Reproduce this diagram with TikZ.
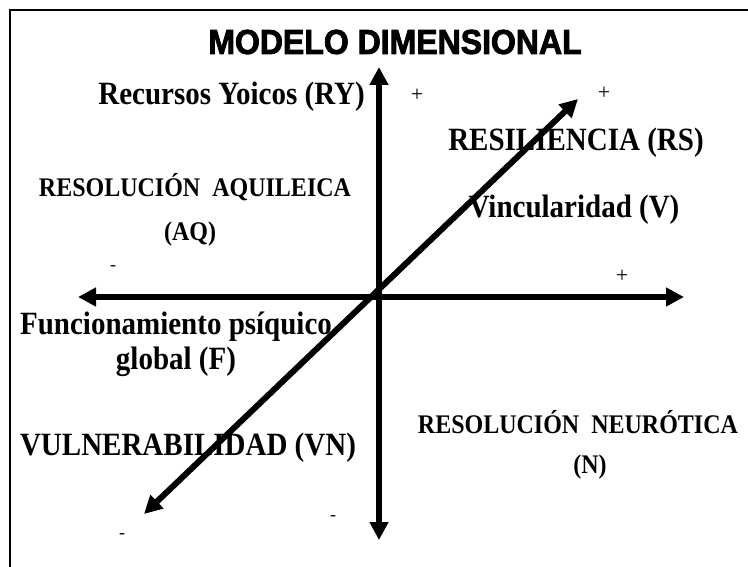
\documentclass[tikz,border=0pt]{standalone}
\usepackage{fontspec}
\setmainfont{Liberation Serif}
\newfontfamily\titlefont{Liberation Sans}[BoldFeatures={FakeBold=2.5}]
\usetikzlibrary{arrows.meta}
\tikzset{
  axis/.style={line width=6pt, {Triangle[length=18pt,width=18pt]}-{Triangle[length=18pt,width=18pt]}},
  lbl/.style={inner sep=0pt, yscale=1.12, font=\fontsize{29}{32}\selectfont\bfseries},
  caps/.style={inner sep=0pt, yscale=1.12, font=\fontsize{24}{27}\selectfont\bfseries},
  sign/.style={inner sep=0pt, font=\fontsize{22}{24}\selectfont},
  minus/.style={inner sep=0pt, font=\fontsize{18}{20}\selectfont},
  frame/.style={line width=2pt}
}
\begin{document}
\begin{tikzpicture}[x=1pt,y=-1pt]
\useasboundingbox (0,0) rectangle (748,567);
\fill[white] (0,0) rectangle (748,567);
\coordinate (fb) at (10,567);
\coordinate (fc) at (10,10);
\coordinate (fr) at (748,10);
\draw[frame] (fb) -- (fc) -- (fr);

\node[inner sep=0pt, yscale=1.08, font=\fontsize{32}{34}\selectfont\titlefont\bfseries] (title) at (395,42) {MODELO DIMENSIONAL};

% axes
\coordinate (top) at (379,67);
\coordinate (bot) at (379,540);
\coordinate (left) at (78,297);
\coordinate (right) at (684,297);
\coordinate (ur) at (578,99);
\coordinate (ll) at (144,514);
\draw[axis] (bot) -- (top);
\draw[axis] (left) -- (right);
\draw[axis] (ll) -- (ur);

% labels
\node[lbl, anchor=east] (ry) at (365,97) {Recursos Yoicos (RY)};
\node[lbl] (rs) at (576,143) {RESILIENCIA (RS)};
\node[lbl] (v) at (574,210) {Vincularidad (V)};
\node[caps] (aq1) at (195,187) {RESOLUCIÓN\ \ AQUILEICA};
\node[caps] (aq2) at (190,234) {(AQ)};
\node[lbl] (f1) at (176,327) {Funcionamiento psíquico};
\node[lbl] (f2) at (176,362) {global (F)};
\node[caps] (n1) at (578,422) {RESOLUCIÓN\ \ NEURÓTICA};
\node[caps] (n2) at (590,467) {(N)};
\node[lbl] (vn) at (188,448) {VULNERABILIDAD (VN)};

% signs
\node[sign] (p1) at (417,95) {+};
\node[sign] (p2) at (604,93) {+};
\node[sign] (p3) at (622,276) {+};
\node[minus] (m1) at (113,268) {-};
\node[minus] (m2) at (122,536) {-};
\node[minus] (m3) at (333,518) {-};
\end{tikzpicture}
\end{document}
